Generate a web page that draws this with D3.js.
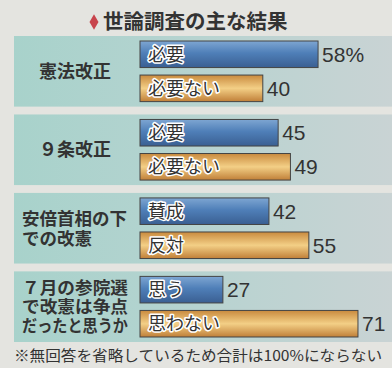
<!DOCTYPE html>
<html>
<head>
<meta charset="utf-8">
<script src="https://cdn.jsdelivr.net/npm/d3@7"></script>
<style>
  body { margin: 0; background: #e4e4e0; }
  svg { display: block; }
</style>
</head>
<body>
<div id="chart"></div>
<script>
    // survey data
    var title = "世論調査の主な結果";
    var groupLabels = [["憲法改正"], ["９条改正"], ["安倍首相の下", "での改憲"], ["７月の参院選", "で改憲は争点", "だったと思うか"]];
    var answers = [["必要", "必要ない"], ["必要", "必要ない"], ["賛成", "反対"], ["思う", "思わない"]];
    var values = [[58, 40], [45, 49], [42, 55], [27, 71]];
    var footnote = "※無回答を省略しているため合計は100%にならない";

    var width = 392, height = 368;
    var font = "'Noto Sans CJK JP', 'Noto Sans', sans-serif";

    var svg = d3.select("#chart").append("svg")
        .attr("width", width)
        .attr("height", height);

    var defs = svg.append("defs");
    var blue = defs.append("linearGradient").attr("id", "blue").attr("x1", 0).attr("y1", 0).attr("x2", 0).attr("y2", 1);
    blue.append("stop").attr("offset", "0%").attr("stop-color", "#7ea6d2");
    blue.append("stop").attr("offset", "45%").attr("stop-color", "#4f7fb8");
    blue.append("stop").attr("offset", "100%").attr("stop-color", "#3a5f92");
    var gold = defs.append("linearGradient").attr("id", "gold").attr("x1", 0).attr("y1", 0).attr("x2", 0).attr("y2", 1);
    gold.append("stop").attr("offset", "0%").attr("stop-color", "#c98a3e");
    gold.append("stop").attr("offset", "50%").attr("stop-color", "#f3cf86");
    gold.append("stop").attr("offset", "100%").attr("stop-color", "#c07f38");
    var panelFill = defs.append("linearGradient").attr("id", "panel");
    panelFill.append("stop").attr("offset", "0%").attr("stop-color", "#a8d2cb");
    panelFill.append("stop").attr("offset", "35%").attr("stop-color", "#b2d3cf");
    panelFill.append("stop").attr("offset", "100%").attr("stop-color", "#c9d3d4");

    // scales
    var y = d3.scaleBand()
        .domain(d3.range(groupLabels.length))
        .range([36, 342])
        .paddingInner(0.1);
    var yInner = d3.scaleBand()
        .domain([0, 1])
        .range([5, y.bandwidth() - 5])
        .paddingInner(0.22);
    var x = d3.scaleLinear().domain([0, 100]).range([140, 447]);

    // title
    var t = svg.append("g");
    t.append("path")
        .attr("d", d3.symbol(d3.symbolDiamond, 70)())
        .attr("transform", "translate(94,22)")
        .attr("fill", "#c8444c");
    t.append("text")
        .attr("x", 103).attr("y", 29)
        .attr("font-family", font).attr("font-weight", "bold")
        .attr("font-size", 20.5).attr("fill", "#333")
        .text(title);

    var groups = svg.selectAll("g.group")
        .data(values)
        .enter().append("g")
        .attr("class", "group")
        .attr("transform", function(d, i) { return "translate(0," + y(i) + ")"; });

    groups.append("rect")
        .attr("x", 14).attr("y", 0)
        .attr("width", width - 14)
        .attr("height", y.bandwidth())
        .attr("fill", "url(#panel)");

    // group labels
    groups.each(function(d, i) {
        var lines = groupLabels[i];
        var g = d3.select(this);
        var lh = lines.length > 2 ? 19 : 20;
        var cy = y.bandwidth() / 2;
        lines.forEach(function(l, j) {
            var txt = g.append("text")
                .attr("y", cy + (j - (lines.length - 1) / 2) * lh)
                .attr("dy", "0.36em")
                .attr("font-family", font).attr("font-weight", "bold")
                .attr("fill", "#333")
                .text(l);
            if (lines.length == 1) {
                txt.attr("x", 75).attr("text-anchor", "middle").attr("font-size", 18);
            } else if (lines.length == 2) {
                txt.attr("x", 22).attr("font-size", 17.5);
            } else {
                txt.attr("x", 22).attr("font-size", 16.5)
                   .attr("textLength", 106).attr("lengthAdjust", "spacingAndGlyphs");
            }
        });
    });

    // bars
    var bars = groups.selectAll("g.bar")
        .data(function(d, i) { return d.map(function(v, j) { return {v: v, j: j, label: answers[i][j], first: i == 0 && j == 0}; }); })
        .enter().append("g")
        .attr("class", "bar")
        .attr("transform", function(d) { return "translate(0," + yInner(d.j) + ")"; });

    bars.append("rect")
        .attr("x", x(0))
        .attr("width", function(d) { return x(d.v) - x(0); })
        .attr("height", yInner.bandwidth())
        .attr("fill", function(d) { return d.j == 0 ? "url(#blue)" : "url(#gold)"; })
        .attr("stroke", "#444").attr("stroke-width", 1);

    bars.append("text")
        .attr("x", x(0) + 8)
        .attr("y", yInner.bandwidth() / 2)
        .attr("dy", "0.36em")
        .attr("font-family", font).attr("font-size", 18)
        .attr("fill", "#333")
        .attr("stroke", "#fff").attr("stroke-width", 3).attr("paint-order", "stroke")
        .attr("stroke-linejoin", "round")
        .text(function(d) { return d.label; });

    bars.append("text")
        .attr("x", function(d) { return x(d.v) + 4; })
        .attr("y", yInner.bandwidth() / 2)
        .attr("dy", "0.36em")
        .attr("font-family", "'Liberation Sans', Arial, sans-serif").attr("font-size", 21)
        .attr("fill", "#333")
        .text(function(d) { return d.first ? d.v + "%" : d.v; });

    // footnote
    svg.append("text")
        .attr("x", 14).attr("y", 361)
        .attr("font-family", font).attr("font-size", 15)
        .attr("fill", "#333")
        .attr("textLength", 368).attr("lengthAdjust", "spacingAndGlyphs")
        .text(footnote);
</script>
</body>
</html>
